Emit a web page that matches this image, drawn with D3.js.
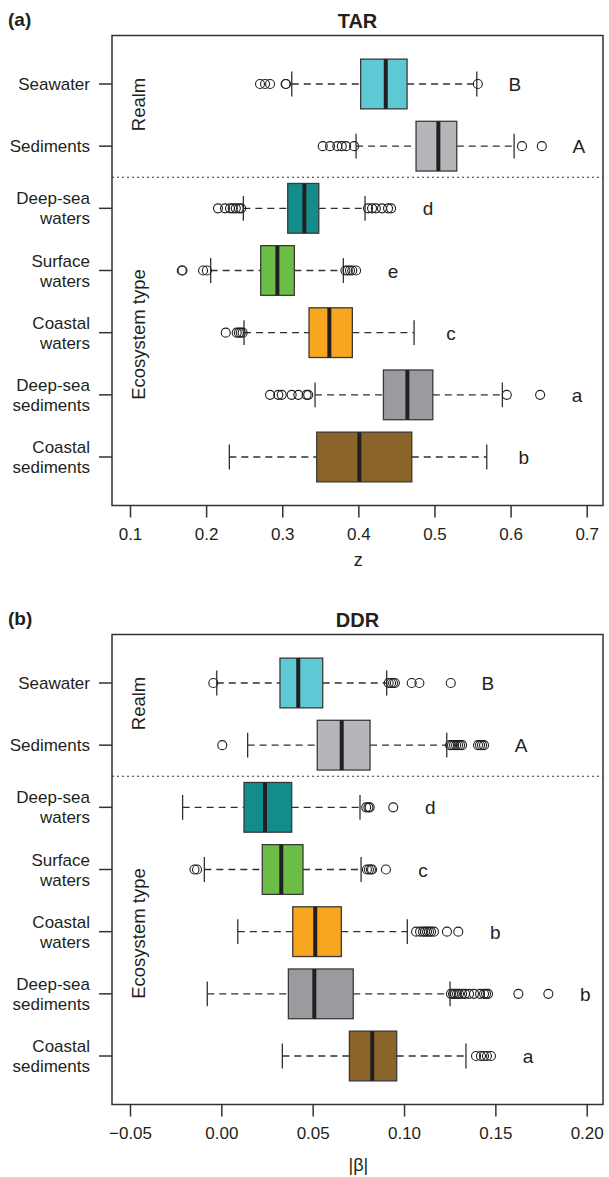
<!DOCTYPE html>
<html>
<head>
<meta charset="utf-8">
<script src="https://cdn.jsdelivr.net/npm/d3@7"></script>
<style>
  body { margin: 0; background: #fff; }
  text { font-family: "Liberation Sans", Arial, Helvetica, sans-serif; fill: #231f20; }
</style>
</head>
<body>
<div id="chart"></div>
<script>
// categories, top to bottom
var categories = ["Seawater", "Sediments", "Deep-sea waters", "Surface waters", "Coastal waters", "Deep-sea sediments", "Coastal sediments"];
var tickLines = [["Seawater"], ["Sediments"], ["Deep-sea", "waters"], ["Surface", "waters"], ["Coastal", "waters"], ["Deep-sea", "sediments"], ["Coastal", "sediments"]];
var boxColors = ["#5fc8d5", "#b5b6ba", "#138d8b", "#6bbe45", "#f8a51f", "#9a9b9e", "#8a6428"];

// (a) TAR, z
var tarLow = [0.3125, 0.397, 0.2489, 0.206, 0.2498, 0.3431, 0.2305];
var tarQ1 = [0.403, 0.4758, 0.3072, 0.2717, 0.3352, 0.4329, 0.3453];
var tarMed = [0.436, 0.5051, 0.3291, 0.2936, 0.3619, 0.4644, 0.4013];
var tarQ3 = [0.464, 0.5293, 0.348, 0.3159, 0.3921, 0.4978, 0.4702];
var tarHigh = [0.5556, 0.6046, 0.4088, 0.3803, 0.4732, 0.5892, 0.5687];
var tarOutliers = [
    [0.2708, 0.2774, 0.284, 0.3044, 0.305, 0.557],
    [0.3532, 0.3628, 0.3724, 0.3782, 0.3839, 0.3944, 0.615, 0.641],
    [0.2156, 0.2248, 0.2314, 0.235, 0.239, 0.243, 0.246, 0.4127, 0.418, 0.423, 0.431, 0.439, 0.443],
    [0.168, 0.169, 0.196, 0.201, 0.383, 0.386, 0.389, 0.392, 0.397],
    [0.2258, 0.2402, 0.243, 0.2455, 0.248],
    [0.284, 0.2948, 0.2993, 0.3124, 0.3211, 0.332, 0.3341, 0.595, 0.6388],
    []
];
var tarLetters = ["B", "A", "d", "e", "c", "a", "b"];
var tarTicks = [0.1, 0.2, 0.3, 0.4, 0.5, 0.6, 0.7];

// (b) DDR, |beta|
var ddrLow = [-0.0025, 0.0144, -0.0212, -0.0093, 0.009, -0.0077, 0.0334];
var ddrQ1 = [0.0321, 0.0525, 0.0124, 0.0224, 0.0391, 0.0367, 0.0701];
var ddrMed = [0.0421, 0.0659, 0.0239, 0.0328, 0.0514, 0.0509, 0.0826];
var ddrQ3 = [0.0555, 0.0814, 0.0385, 0.0447, 0.0657, 0.0722, 0.096];
var ddrHigh = [0.0905, 0.1234, 0.0759, 0.0765, 0.1018, 0.1252, 0.1339];
var ddrOutliers = [
    [-0.0044, 0.0916, 0.0929, 0.094, 0.095, 0.1042, 0.1084, 0.1256],
    [0.0005, 0.1252, 0.1263, 0.1274, 0.1285, 0.1296, 0.1307, 0.1318, 0.1405, 0.1416, 0.1427, 0.1438],
    [0.0793, 0.0805, 0.0812, 0.0941],
    [-0.0147, -0.0133, 0.0797, 0.0808, 0.0819, 0.0825, 0.0901],
    [0.1066, 0.1088, 0.1104, 0.1115, 0.1126, 0.1137, 0.1148, 0.1164, 0.1235, 0.1297],
    [0.1257, 0.1268, 0.1279, 0.129, 0.1301, 0.1318, 0.1334, 0.1356, 0.1383, 0.1416, 0.1438, 0.1449, 0.146, 0.1626, 0.179],
    [0.1394, 0.1421, 0.1438, 0.1454, 0.1476]
];
var ddrLetters = ["B", "A", "d", "c", "b", "b", "a"];
var ddrTicks = [-0.05, 0, 0.05, 0.1, 0.15, 0.2];

var svg = d3.select("#chart").append("svg")
    .attr("width", 609)
    .attr("height", 1177);

function panel(opt) {
    var left = 112, right = 603, top = opt.top, height = 470;
    var g = svg.append("g");

    var x = d3.scaleLinear().domain(opt.domain).range([left, right]);
    var y = d3.scaleLinear().domain([0.22, 7.78]).range([top, top + height]);

    var stats = categories.map(function(c, i) {
        return {name: c, i: i + 1, low: opt.low[i], q1: opt.q1[i], med: opt.med[i], q3: opt.q3[i],
            high: opt.high[i], out: opt.out[i], letter: opt.letters[i], color: boxColors[i], lines: tickLines[i]};
    });

    // panel tag + title
    g.append("text").attr("x", 8).attr("y", opt.top - 10)
        .style("font-size", "19px").style("font-weight", "bold").text(opt.tag);
    g.append("text").attr("x", (left + right) / 2).attr("y", top - 8)
        .attr("text-anchor", "middle")
        .style("font-size", "20px").style("font-weight", "bold").text(opt.title);

    // dotted separator between realm and ecosystem
    g.append("line")
        .attr("x1", left).attr("x2", right)
        .attr("y1", y(2.5)).attr("y2", y(2.5))
        .attr("stroke", "#333").attr("stroke-width", 1.2)
        .attr("stroke-dasharray", "2,3");

    var rows = g.selectAll(".row").data(stats).enter().append("g").attr("class", "row");

    // whiskers
    rows.append("line")
        .attr("x1", function(d) { return x(d.low); })
        .attr("x2", function(d) { return x(d.q1); })
        .attr("y1", function(d) { return y(d.i); })
        .attr("y2", function(d) { return y(d.i); })
        .attr("stroke", "#303030").attr("stroke-width", 1.3).attr("stroke-dasharray", "7,5");
    rows.append("line")
        .attr("x1", function(d) { return x(d.q3); })
        .attr("x2", function(d) { return x(d.high); })
        .attr("y1", function(d) { return y(d.i); })
        .attr("y2", function(d) { return y(d.i); })
        .attr("stroke", "#303030").attr("stroke-width", 1.3).attr("stroke-dasharray", "7,5");
    // staples
    ["low", "high"].forEach(function(k) {
        rows.append("line")
            .attr("x1", function(d) { return x(d[k]); })
            .attr("x2", function(d) { return x(d[k]); })
            .attr("y1", function(d) { return y(d.i - 0.2); })
            .attr("y2", function(d) { return y(d.i + 0.2); })
            .attr("stroke", "#303030").attr("stroke-width", 1.3);
    });

    // boxes
    rows.append("rect")
        .attr("x", function(d) { return x(d.q1); })
        .attr("width", function(d) { return x(d.q3) - x(d.q1); })
        .attr("y", function(d) { return y(d.i - 0.4); })
        .attr("height", function(d) { return y(d.i + 0.4) - y(d.i - 0.4); })
        .attr("fill", function(d) { return d.color; })
        .attr("stroke", "#3a3a3a").attr("stroke-width", 1.3);
    rows.append("line")
        .attr("x1", function(d) { return x(d.med); })
        .attr("x2", function(d) { return x(d.med); })
        .attr("y1", function(d) { return y(d.i - 0.4); })
        .attr("y2", function(d) { return y(d.i + 0.4); })
        .attr("stroke", "#231f20").attr("stroke-width", 4);

    // outliers
    rows.selectAll("circle")
        .data(function(d) { return d.out.map(function(v) { return {v: v, i: d.i}; }); })
        .enter().append("circle")
        .attr("cx", function(d) { return x(d.v); })
        .attr("cy", function(d) { return y(d.i); })
        .attr("r", 4.5)
        .attr("fill", "none").attr("stroke", "#231f20").attr("stroke-width", 1.1);

    // significance letters
    rows.append("text")
        .attr("x", function(d) { return x(d3.max(d.out.concat([d.high]))) + 37; })
        .attr("y", function(d) { return y(d.i) + 7; })
        .attr("text-anchor", "middle")
        .style("font-size", "19px")
        .text(function(d) { return d.letter; });

    // frame
    g.append("rect")
        .attr("x", left).attr("y", top)
        .attr("width", right - left).attr("height", height)
        .attr("fill", "none").attr("stroke", "#333").attr("stroke-width", 1.5);

    // x axis
    var xAxis = d3.axisBottom(x).tickValues(opt.ticks).tickSize(12).tickPadding(10)
        .tickFormat(opt.format);
    var gx = g.append("g").attr("transform", "translate(0," + (top + height) + ")").call(xAxis);
    gx.select(".domain").remove();
    gx.selectAll(".tick line").attr("stroke", "#333").attr("stroke-width", 1.5);
    gx.selectAll(".tick text").style("font-size", "17px").attr("fill", "#231f20");

    g.append("text").attr("x", x(opt.labelAt)).attr("y", top + height + opt.labelDy)
        .attr("text-anchor", "middle").style("font-size", "18px").text(opt.label);

    // y axis: ticks and (multi-line) labels
    var yt = g.selectAll(".ytick").data(stats).enter().append("g").attr("class", "ytick");
    yt.append("line")
        .attr("x1", left - 13).attr("x2", left)
        .attr("y1", function(d) { return y(d.i); })
        .attr("y2", function(d) { return y(d.i); })
        .attr("stroke", "#333").attr("stroke-width", 1.5);
    yt.append("text")
        .attr("x", 90)
        .attr("text-anchor", "end")
        .style("font-size", "17px")
        .each(function(d) {
            var t = d3.select(this);
            var n = d.lines.length;
            d.lines.forEach(function(s, j) {
                t.append("tspan").attr("x", 90)
                    .attr("y", y(d.i) + 6 + (j - (n - 1) / 2) * 20)
                    .text(s);
            });
        });

    // group labels
    g.append("text")
        .attr("transform", "translate(145," + (top + 69) + ") rotate(-90)")
        .attr("text-anchor", "middle").style("font-size", "18.5px").text("Realm");
    g.append("text")
        .attr("transform", "translate(145," + (top + 299) + ") rotate(-90)")
        .attr("text-anchor", "middle").style("font-size", "18.5px").text("Ecosystem type");
}

panel({
    tag: "(a)", title: "TAR", top: 35.5,
    domain: [0.07635, 0.7214],
    low: tarLow, q1: tarQ1, med: tarMed, q3: tarQ3, high: tarHigh, out: tarOutliers, letters: tarLetters,
    ticks: tarTicks, format: d3.format(".1f"),
    label: "z", labelAt: 0.4, labelDy: 60
});

panel({
    tag: "(b)", title: "DDR", top: 634.5,
    domain: [-0.05985, 0.20892],
    low: ddrLow, q1: ddrQ1, med: ddrMed, q3: ddrQ3, high: ddrHigh, out: ddrOutliers, letters: ddrLetters,
    ticks: ddrTicks, format: function(d) { return d3.format(".2f")(d).replace("-", "\u2013"); },
    label: "|\u03b2|", labelAt: 0.075, labelDy: 66
});
</script>
</body>
</html>
